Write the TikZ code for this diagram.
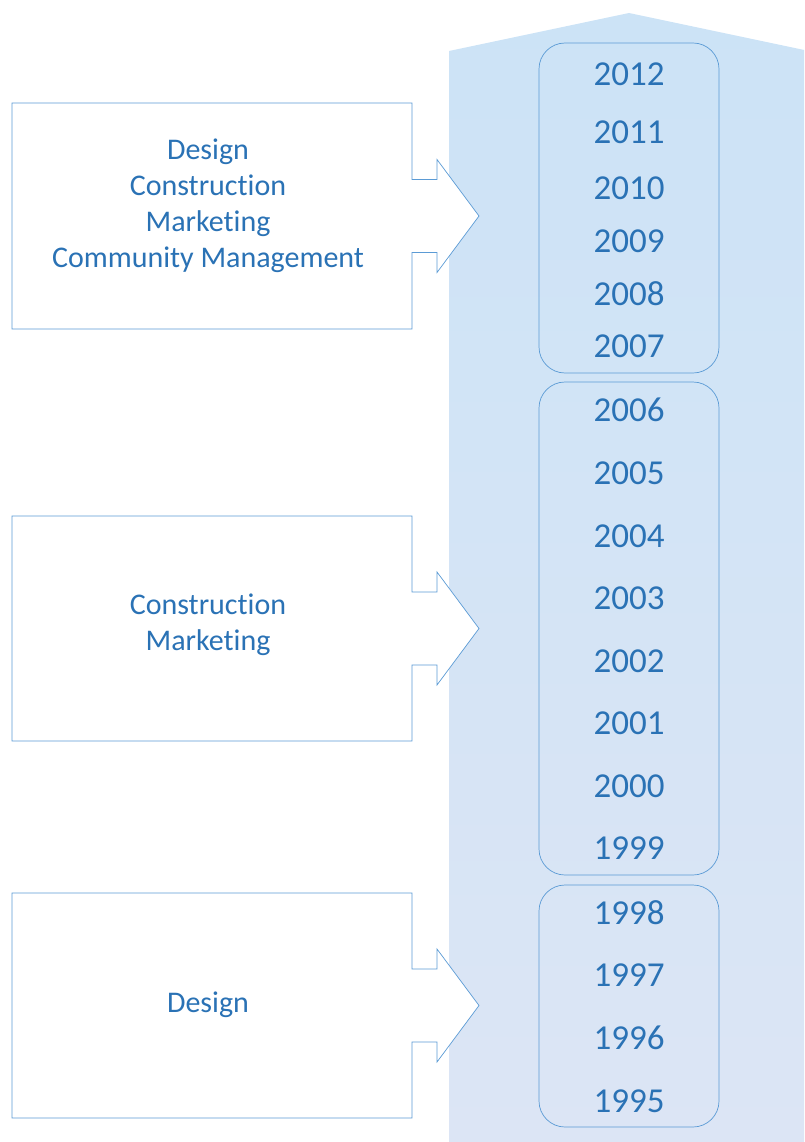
\documentclass[tikz,border=0pt]{standalone}
\usepackage{fontspec}
\setmainfont{Carlito}[Ligatures={NoCommon}]
\definecolor{txtblue}{HTML}{2A72B5}
\definecolor{lineblue}{HTML}{5B9BD5}
\definecolor{bgtop}{HTML}{CCE3F6}
\definecolor{bgbot}{HTML}{DCE5F5}
\begin{document}
\begin{tikzpicture}[x=1pt,y=-1pt,
  yearlbl/.style={anchor=base,text=txtblue,font=\fontsize{35}{40}\selectfont,inner sep=0pt},
  phase/.style={align=center,text=txtblue,font=\fontsize{30}{36}\selectfont,inner sep=0pt},
  callout/.style={draw=lineblue,line width=0.7pt,fill=white},
  group/.style={draw=lineblue,line width=0.7pt,rounded corners=26pt}]
\useasboundingbox (0,0) rectangle (804,1142);
% big timeline arrow
\begin{scope}
\clip (0,0) rectangle (804,1142);
\shade[top color=bgtop,bottom color=bgbot] (449,1142) -- (449,51) -- (629,13) -- (809,51) -- (809,1142) -- cycle;
\end{scope}
% groups
\draw[group] (539,43) rectangle (719,373);
\draw[group] (539,382) rectangle (719,875);
\draw[group] (539,885) rectangle (719,1127);
% callouts
\foreach \t/\b in {103/329,516/741,893/1118}{
  \pgfmathsetmacro{\c}{(\t+\b)/2}
  \draw[callout] (12,\t) -- (412,\t) -- (412,\c-36.5) -- (437,\c-36.5) -- (437,\c-56.5)
    -- (479,\c) -- (437,\c+56.5) -- (437,\c+36.5) -- (412,\c+36.5) -- (412,\b) -- (12,\b) -- cycle;
}
\node[phase] (p1) at (208,206) {Design\\Construction\\Marketing\\Community Management};
\node[phase] (p2) at (208,625) {Construction\\Marketing};
\node[phase] (p3) at (208,1005) {Design};
% years
\foreach \yr/\y in {2012/74,2011/132,2010/188,2009/241,2008/294,2007/346,
  2006/410,2005/473,2004/536,2003/598,2002/661,2001/723,2000/786,1999/848,
  1998/913,1997/975,1996/1038,1995/1101}{
  \node[yearlbl] (y\yr) at (629,\y+11.5) {\yr};
}
\end{tikzpicture}
\end{document}
